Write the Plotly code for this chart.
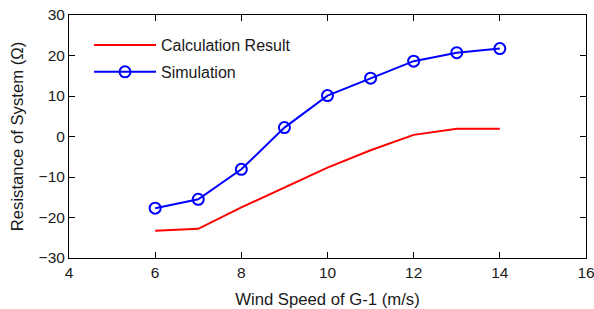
import plotly.graph_objects as go

wind_speed = [6, 7, 8, 9, 10, 11, 12, 13, 14]
calculation_result = [-23.3, -22.8, -17.5, -12.6, -7.7, -3.4, 0.4, 1.9, 1.9]
simulation = [-17.7, -15.5, -8.1, 2.2, 10.1, 14.4, 18.6, 20.7, 21.7]

x_ticks = [4, 6, 8, 10, 12, 14, 16]
y_ticks = [-30, -20, -10, 0, 10, 20, 30]

font_family = "Liberation Sans, Arial, sans-serif"
text_color = "#1a1a1a"

fig = go.Figure()
fig.add_trace(go.Scatter(
    x=wind_speed, y=calculation_result, mode="lines", name="Calculation Result",
    legendgroup="calc",
    line=dict(color="#ff0000", width=2)))
fig.add_trace(go.Scatter(
    x=wind_speed, y=simulation, mode="lines+markers", name="Simulation",
    legendgroup="sim",
    line=dict(color="#0000ff", width=2),
    marker=dict(symbol="circle-open", size=11, color="#0000ff", line=dict(width=2, color="#0000ff"))))

axis_common = dict(
    showgrid=False, zeroline=False, showline=True, linecolor="black", linewidth=1,
    mirror="ticks", ticks="inside", ticklen=6, tickcolor="black", automargin=False,
    ticklabeloverflow="allow",
    tickfont=dict(family=font_family, size=15.5, color=text_color),
)

fig.update_layout(
    width=594, height=309,
    margin=dict(l=69, r=8, t=15, b=51),
    paper_bgcolor="white", plot_bgcolor="white",
    font=dict(family=font_family, size=16, color=text_color),
    xaxis=dict(range=[4, 16], tickvals=x_ticks,
               title=dict(text="Wind Speed of G-1 (m/s)", standoff=13,
                          font=dict(size=16.7, family=font_family, color=text_color)),
               **axis_common),
    yaxis=dict(range=[-30, 30], tickvals=y_ticks,
               title=dict(text="Resistance of System (Ω)", standoff=10,
                          font=dict(size=16.7, family=font_family, color=text_color)),
               **axis_common),
    legend=dict(x=0.0387, y=0.946, xanchor="left", yanchor="top", bgcolor="rgba(0,0,0,0)",
                itemwidth=62, font=dict(family=font_family, size=16, color=text_color),
                tracegroupgap=3),
    showlegend=True,
)

fig.write_html("out.html", config={"displayModeBar": False},
               post_script="document.body.style.margin='0px';")
